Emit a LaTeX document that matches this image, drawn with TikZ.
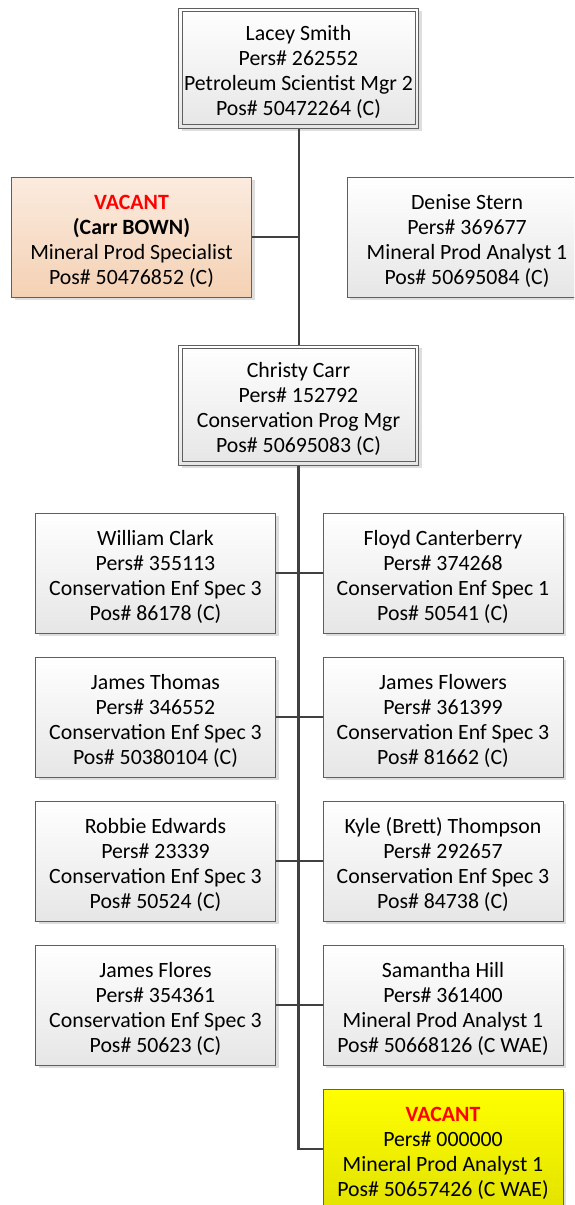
\documentclass[tikz,border=0pt]{standalone}
\usepackage{fontspec}
\setmainfont{Carlito}
\usetikzlibrary{shadows}
\definecolor{boxborder}{HTML}{5F5F5F}
\definecolor{boxbottom}{HTML}{E6E6E6}
\definecolor{orgtop}{HTML}{FBEBDF}
\definecolor{orgbot}{HTML}{F4D1B4}
\definecolor{yeltop}{HTML}{FFFF00}
\definecolor{yelbot}{HTML}{E2E200}
\definecolor{connclr}{HTML}{404040}
\definecolor{vacred}{HTML}{FF0000}
\newcommand\cardtext[4]{\rule{0pt}{23pt}#1\\#2\\#3\\#4}
\begin{document}
\begin{tikzpicture}[x=1pt,y=-1pt,
  box/.style={draw=boxborder, line width=1pt, minimum width=240pt, minimum height=120pt,
    inner sep=0pt, align=center, text=black, font=\fontsize{21.8}{25}\selectfont,
    top color=white, bottom color=boxbottom,
    drop shadow={shadow xshift=3pt, shadow yshift=-3pt, fill=black, opacity=0.13}},
  orgbox/.style={box, top color=orgtop, bottom color=orgbot},
  yelbox/.style={box, top color=yeltop, bottom color=yelbot},
  inner/.style={draw=boxborder, line width=0.9pt},
  conn/.style={draw=connclr, line width=2.4pt}]
\useasboundingbox (0,0) rectangle (574,1205);
\clip (0,0) rectangle (574,1205);

\node[box] (top) at (298.5,68) {\cardtext{Lacey Smith}{Pers\# 262552}{Petroleum Scientist Mgr 2}{Pos\# 50472264 (C)}};
\node[orgbox] (vacA) at (131.5,237) {\cardtext{\color{vacred}\bfseries VACANT}{\bfseries (Carr BOWN)}{Mineral Prod Specialist}{Pos\# 50476852 (C)}};
\node[box] (den) at (467,237) {\cardtext{Denise Stern}{Pers\# 369677}{Mineral Prod Analyst 1}{Pos\# 50695084 (C)}};
\node[box] (chr) at (298.5,405) {\cardtext{Christy Carr}{Pers\# 152792}{Conservation Prog Mgr}{Pos\# 50695083 (C)}};

\node[box] (l1) at (155.5,573) {\cardtext{William Clark}{Pers\# 355113}{Conservation Enf Spec 3}{Pos\# 86178 (C)}};
\node[box] (r1) at (443,573) {\cardtext{Floyd Canterberry}{Pers\# 374268}{Conservation Enf Spec 1}{Pos\# 50541 (C)}};
\node[box] (l2) at (155.5,717) {\cardtext{James Thomas}{Pers\# 346552}{Conservation Enf Spec 3}{Pos\# 50380104 (C)}};
\node[box] (r2) at (443,717) {\cardtext{James Flowers}{Pers\# 361399}{Conservation Enf Spec 3}{Pos\# 81662 (C)}};
\node[box] (l3) at (155.5,861) {\cardtext{Robbie Edwards}{Pers\# 23339}{Conservation Enf Spec 3}{Pos\# 50524 (C)}};
\node[box] (r3) at (443,861) {\cardtext{Kyle (Brett) Thompson}{Pers\# 292657}{Conservation Enf Spec 3}{Pos\# 84738 (C)}};
\node[box] (l4) at (155.5,1005) {\cardtext{James Flores}{Pers\# 354361}{Conservation Enf Spec 3}{Pos\# 50623 (C)}};
\node[box] (r4) at (443,1005) {\cardtext{Samantha Hill}{Pers\# 361400}{Mineral Prod Analyst 1}{Pos\# 50668126 (C WAE)}};
\node[yelbox] (yel) at (443,1149) {\cardtext{\color{vacred}\bfseries VACANT}{Pers\# 000000}{Mineral Prod Analyst 1}{Pos\# 50657426 (C WAE)}};

\draw[inner] ([xshift=4pt,yshift=-4pt]top.north west) rectangle ([xshift=-4pt,yshift=4pt]top.south east);
\draw[inner] ([xshift=4pt,yshift=-4pt]chr.north west) rectangle ([xshift=-4pt,yshift=4pt]chr.south east);

\draw[conn, line width=2pt] (top.south) -- (chr.north);
\draw[conn, line width=2pt] (vacA.east) -- (vacA.east -| top.south);
\draw[conn] (chr.south) -- (yel.west -| chr.south) -- (yel.west);
\draw[conn, line width=2pt] (l1.east) -- (r1.west);
\draw[conn, line width=2pt] (l2.east) -- (r2.west);
\draw[conn, line width=2pt] (l3.east) -- (r3.west);
\draw[conn, line width=2pt] (l4.east) -- (r4.west);
\end{tikzpicture}
\end{document}
